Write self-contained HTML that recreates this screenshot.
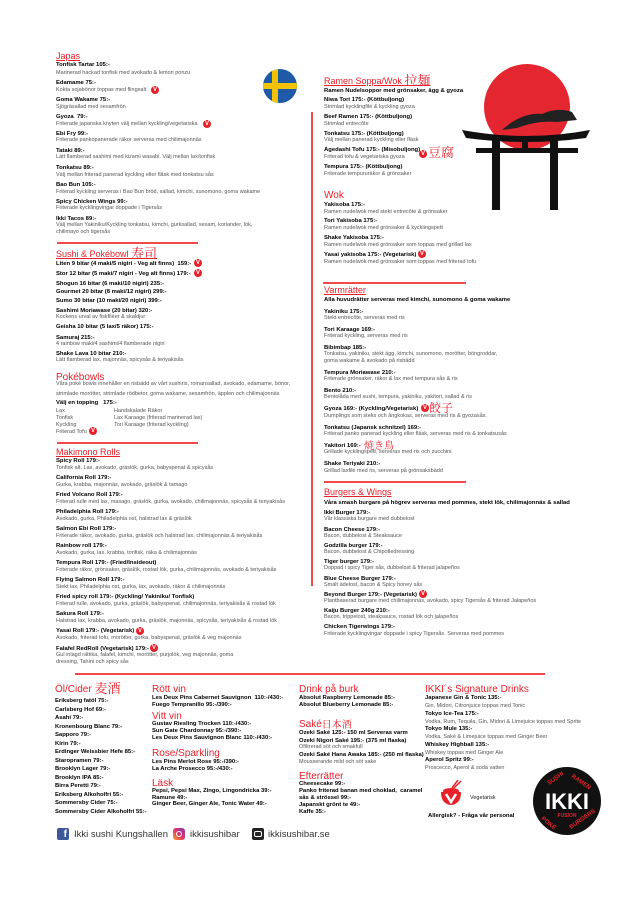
<!DOCTYPE html>
<html><head><meta charset="utf-8">
<style>
*{margin:0;padding:0;box-sizing:border-box}
body{width:640px;height:900px;background:#fff;position:relative;overflow:hidden;font-family:"Liberation Sans","Noto Sans CJK JP",sans-serif}
div{position:absolute;white-space:nowrap}
.b{font-weight:bold;font-size:5.9px;line-height:7px;color:#000}
.d{font-size:5.5px;line-height:7px;color:#555}
.h{font-size:9px;line-height:11px;color:#e8202a;text-decoration:underline}
.h2{font-size:10px;line-height:12px;color:#e8202a}
.k{color:#e8202a;font-family:"Noto Serif CJK SC",serif}
span.k{line-height:0;vertical-align:-1px}
.r{background:#f04a4a;height:2px}
.v{width:8px;height:8px;border-radius:50%;background:#e8202a;color:#fff;font-size:6px;line-height:8px;text-align:center;font-weight:bold}
.s{font-size:9.5px;line-height:12px;color:#333}
</style></head><body>

<!-- Japas -->
<div class="h" style="left:56px;top:51px">Japas</div>
<div class="b" style="left:56px;top:62px">Tonfisk Tartar 105:-</div>
<div class="d" style="left:56px;top:70px">Marinerad hackad tonfisk med avokado &amp; lemon ponzu</div>
<div class="b" style="left:56px;top:80px">Edamame 75:-</div>
<div class="d" style="left:56px;top:87px">Kokta sojabönor toppas med flingsalt</div>
<div class="v" style="left:151px;top:86px">V</div>
<div class="b" style="left:56px;top:97px">Goma Wakame 75:-</div>
<div class="d" style="left:56px;top:104px">Sjögräsallad med sesamfrön</div>
<div class="b" style="left:56px;top:114px">Gyoza&nbsp; 79:-</div>
<div class="d" style="left:56px;top:121px">Friterade japanska knyten välj mellan kyckling/vegetariska</div>
<div class="v" style="left:203px;top:120px">V</div>
<div class="b" style="left:56px;top:131px">Ebi Fry 99:-</div>
<div class="d" style="left:56px;top:137px">Friterade pankopanerade räkor serveras med chilimajonnäs</div>
<div class="b" style="left:56px;top:148px">Tataki 89:-</div>
<div class="d" style="left:56px;top:154px">Lätt flamberad sashimi med kizami wasabi. Välj mellan lax/tonfisk</div>
<div class="b" style="left:56px;top:165px">Tonkatsu 89:-</div>
<div class="d" style="left:56px;top:172px">Välj mellan friterad panerad kyckling eller fläsk med tonkatsu sås</div>
<div class="b" style="left:56px;top:182px">Bao Bun 105:-</div>
<div class="d" style="left:56px;top:189px">Friterad kyckling serveras i Bao Bun bröd, sallad, kimchi, sunomono, goma wakame</div>
<div class="b" style="left:56px;top:199px">Spicy Chicken Wings 99:-</div>
<div class="d" style="left:56px;top:205px">Friterade kycklingvingar doppade i Tigersås</div>
<div class="b" style="left:56px;top:216px">Ikki Tacos 89:-</div>
<div class="d" style="left:56px;top:222px">Välj mellan Yakiniku/Kyckling tonkatsu, kimchi, gurksallad, sesam, koriander, lök,</div>
<div class="d" style="left:56px;top:229px">chilimayo och tigersås</div>
<div class="r" style="left:57px;top:242px;width:141px"></div>

<!-- flag -->
<svg style="position:absolute;left:263px;top:69px" width="34" height="34"><defs><clipPath id="c"><circle cx="17" cy="17" r="17"/></clipPath></defs><g clip-path="url(#c)"><rect width="34" height="34" fill="#1f5aa6"/><rect x="9" width="6" height="34" fill="#f4c200"/><rect y="14" width="34" height="6" fill="#f4c200"/></g></svg>
<div style="left:311px;top:112px;width:2px;height:474px;background:#f04a4a"></div>

<!-- Sushi -->
<div class="h" style="left:56px;top:249px">Sushi &amp; Pokébowl <span class="k" style="font-size:13px;text-decoration:none">寿司</span></div>
<div class="b" style="left:56px;top:261px">Liten 9 bitar (4 maki/5 nigiri - Veg alt finns)&nbsp; 159:-</div>
<div class="v" style="left:194px;top:259px">V</div>
<div class="b" style="left:56px;top:271px">Stor 12 bitar (5 maki/7 nigiri - Veg alt finns) 179:-</div>
<div class="v" style="left:194px;top:269px">V</div>
<div class="b" style="left:56px;top:281px">Shogun 16 bitar (6 maki/10 nigiri) 235:-</div>
<div class="b" style="left:56px;top:289px">Gourmet 20 bitar (8 maki/12 nigiri) 299:-</div>
<div class="b" style="left:56px;top:298px">Sumo 30 bitar (10 maki/20 nigiri) 399:-</div>
<div class="b" style="left:56px;top:308px">Sashimi Moriawase (20 bitar) 320:-</div>
<div class="d" style="left:56px;top:314px">Kockens urval av fiskfiléer &amp; skaldjur</div>
<div class="b" style="left:56px;top:324px">Geisha 10 bitar (5 lax/5 räkor) 175:-</div>
<div class="b" style="left:56px;top:335px">Samuraj 215:-</div>
<div class="d" style="left:56px;top:341px">4 rainbow maki/4 sashimi/4 flamberade nigiri</div>
<div class="b" style="left:56px;top:351px">Shake Lava 10 bitar 210:-</div>
<div class="d" style="left:56px;top:357px">Lätt flamberad lax, majonnäs, spicysås &amp; teriyakisås</div>
<div class="h2" style="left:56px;top:372px">Pokébowls</div>
<div class="d" style="left:56px;top:381px">Våra poké bowls innehåller en risbädd av vårt sushiris, romansallad, avokado, edamame, bönor,</div>
<div class="d" style="left:56px;top:391px">strimlade morötter, strimlade rödbetor, goma wakame, sesamfrön, äpplen och chilimajonnäs</div>
<div class="b" style="left:56px;top:400px">Välj en topping&nbsp;&nbsp; 175:-</div>
<div class="d" style="left:56px;top:408px">Lax</div><div class="d" style="left:114px;top:408px">Handskalade Räkor</div>
<div class="d" style="left:56px;top:415px">Tonfisk</div><div class="d" style="left:114px;top:415px">Lax Karaage (friterad marinerad lax)</div>
<div class="d" style="left:56px;top:422px">Kyckling</div><div class="d" style="left:114px;top:422px">Tori Karaage (friterad kyckling)</div>
<div class="d" style="left:56px;top:429px">Friterad Tofu</div>
<div class="v" style="left:89px;top:427px">V</div>
<div class="r" style="left:57px;top:442px;width:141px"></div>

<!-- Makimono -->
<div class="h" style="left:56px;top:447px">Makimono Rolls</div>
<div class="b" style="left:56px;top:458px">Spicy Roll 179:-</div>
<div class="d" style="left:56px;top:465px">Tonfisk alt. Lax, avokado, gräslök, gurka, babyspenat &amp; spicysås</div>
<div class="b" style="left:56px;top:475px">California Roll 179:-</div>
<div class="d" style="left:56px;top:482px">Gurka, krabba, majonnäs, avokado, gräslök &amp; tamago</div>
<div class="b" style="left:56px;top:492px">Fried Volcano Roll 179:-</div>
<div class="d" style="left:56px;top:499px">Friterad rulle med lax, masago, gräslök, gurka, avokado, chilimajonnäs, spicysås &amp; teriyakisås</div>
<div class="b" style="left:56px;top:509px">Philadelphia Roll 179:-</div>
<div class="d" style="left:56px;top:516px">Avokado, gurka, Philadelphia ost, halstrad lax &amp; gräslök</div>
<div class="b" style="left:56px;top:526px">Salmon Ebi Roll 179:-</div>
<div class="d" style="left:56px;top:533px">Friterade räkor, avokado, gurka, gräslök och halstrad lax, chilimajonnäs &amp; teriyakisås</div>
<div class="b" style="left:56px;top:543px">Rainbow roll 179:-</div>
<div class="d" style="left:56px;top:550px">Avokado, gurka, lax, krabba, tonfisk, räka &amp; chilimajonnäs</div>
<div class="b" style="left:56px;top:560px">Tempura Roll 179:- (Fried/Insideout)</div>
<div class="d" style="left:56px;top:567px">Friterade räkor, grönsaker, gräslök, rostad lök, gurka, chilimajonnäs, avokado &amp; teriyakisås</div>
<div class="b" style="left:56px;top:577px">Flying Salmon Roll 179:-</div>
<div class="d" style="left:56px;top:584px">Stekt lax, Philadelphia ost, gurka, lax, avokado, räkor &amp; chilimajonnäs</div>
<div class="b" style="left:56px;top:594px">Fried spicy roll 179:- (Kyckling/ Yakiniku/ Tonfisk)</div>
<div class="d" style="left:56px;top:601px">Friterad rulle, avokado, gurka, gräslök, babyspenat, chilimajonnäs, teriyakisås &amp; rostad lök</div>
<div class="b" style="left:56px;top:611px">Sakura Roll 179:-</div>
<div class="d" style="left:56px;top:618px">Halstrad lax, krabba, avokado, gurka, gräslök, majonnäs, spicysås, teriyakisås &amp; rostad lök</div>
<div class="b" style="left:56px;top:628px">Yasai Roll 179:- (Vegetarisk)</div>
<div class="v" style="left:136px;top:627px">V</div>
<div class="d" style="left:56px;top:635px">Avokado, friterad tofu, morötter, gurka, babyspenat, gräslök &amp; veg majonnäs</div>
<div class="b" style="left:56px;top:646px">Falafel RedRoll (Vegetarisk) 179:-</div>
<div class="v" style="left:150px;top:644px">V</div>
<div class="d" style="left:56px;top:652px">Gul inlagd rättika, falafel, kimchi, morötter, purjolök, veg majonnäs, goma</div>
<div class="d" style="left:56px;top:659px">dressing, Tahini och spicy sås</div>
<div class="r" style="left:75px;top:673px;width:470px"></div>

<!-- torii -->
<svg style="position:absolute;left:462px;top:62px" width="130" height="156">
<circle cx="65" cy="45" r="43" fill="#e3262f"/>
<path d="M0 68 Q65 80 128 68 L124 76 Q65 84 4 76Z" fill="#111"/>
<rect x="14" y="86" width="102" height="5" fill="#111"/>
<rect x="30" y="76" width="8" height="72" fill="#111"/>
<rect x="88" y="76" width="8" height="72" fill="#111"/>
<rect x="60" y="76" width="6" height="12" fill="#111"/>
<path d="M40 68 Q60 50 80 52 Q95 45 110 50 L115 58 L95 60 Q75 58 55 66Z" fill="#222"/>
</svg>

<!-- Ramen -->
<div class="h" style="left:324px;top:76px">Ramen Soppa/Wok <span class="k" style="font-size:13px;text-decoration:none">拉麺</span></div>
<div class="b" style="left:324px;top:88px">Ramen Nudelsoppor med grönsaker, ägg &amp; gyoza</div>
<div class="b" style="left:324px;top:97px">Niwa Tori 175:- (Köttbuljong)</div>
<div class="d" style="left:324px;top:104px">Strimlad kycklingfilé &amp; kyckling gyoza</div>
<div class="b" style="left:324px;top:114px">Beef Ramen 175:- (Köttbuljong)</div>
<div class="d" style="left:324px;top:121px">Strimlad entrecôte</div>
<div class="b" style="left:324px;top:131px">Tonkatsu 175:- (Köttbuljong)</div>
<div class="d" style="left:324px;top:137px">Välj mellan panerad kyckling eller fläsk</div>
<div class="b" style="left:324px;top:147px">Agedashi Tofu 175:- (Misobuljong)</div>
<div class="v" style="left:419px;top:150px">V</div>
<div class="k" style="left:428px;top:144px;font-size:13px;line-height:15px">豆腐</div>
<div class="d" style="left:324px;top:154px">Friterad tofu &amp; vegetariska gyoza</div>
<div class="b" style="left:324px;top:164px">Tempura 175:- (Köttbuljong)</div>
<div class="d" style="left:324px;top:171px">Friterade tempururäkor &amp; grönsaker</div>
<div class="h2" style="left:324px;top:190px">Wok</div>
<div class="b" style="left:324px;top:202px">Yakisoba 175:-</div>
<div class="d" style="left:324px;top:209px">Ramen nudelwok med stekt entrecôte &amp; grönsaker</div>
<div class="b" style="left:324px;top:218px">Tori Yakisoba 175:-</div>
<div class="d" style="left:324px;top:225px">Ramen nudelwok med grönsaker &amp; kycklingspett</div>
<div class="b" style="left:324px;top:235px">Shake Yakisoba 175:-</div>
<div class="d" style="left:324px;top:242px">Ramen nudelwok med grönsaker som toppas med grillad lax</div>
<div class="b" style="left:324px;top:252px">Yasai yakisoba 175:- (Vegetarisk)</div>
<div class="v" style="left:418px;top:250px">V</div>
<div class="d" style="left:324px;top:259px">Ramen nudelwok med grönsaker som toppas med friterad tofu</div>
<div class="r" style="left:323px;top:282px;width:143px"></div>

<!-- Varm -->
<div class="h" style="left:324px;top:285px">Varmrätter</div>
<div class="b" style="left:324px;top:297px">Alla huvudrätter serveras med kimchi, sunomono &amp; goma wakame</div>
<div class="b" style="left:324px;top:309px">Yakiniku 175:-</div>
<div class="d" style="left:324px;top:315px">Stekt entrecôte, serveras med ris</div>
<div class="b" style="left:324px;top:327px">Tori Karaage 169:-</div>
<div class="d" style="left:324px;top:333px">Friterad kyckling, serveras med ris</div>
<div class="b" style="left:324px;top:345px">Bibimbap 185:-</div>
<div class="d" style="left:324px;top:351px">Tonkatsu, yakiniku, stekt ägg, kimchi, sunomono, morötter, böngroddar,</div>
<div class="d" style="left:324px;top:358px">goma wakame &amp; avokado på risbädd</div>
<div class="b" style="left:324px;top:370px">Tempura Moriawase 210:-</div>
<div class="d" style="left:324px;top:376px">Friterade grönsaker, räkor &amp; lax med tempura sås &amp; ris</div>
<div class="b" style="left:324px;top:388px">Bento 210:-</div>
<div class="d" style="left:324px;top:394px">Bentolåda med sushi, tempura, yakiniku, yakitori, sallad &amp; ris</div>
<div class="b" style="left:324px;top:406px">Gyoza 169:- (Kyckling/Vegetarisk)</div>
<div class="v" style="left:421px;top:404px">V</div>
<div class="k" style="left:429px;top:401px;font-size:12px;line-height:14px">餃子</div>
<div class="d" style="left:324px;top:413px">Dumplings som steks och ångkokas, serveras med ris &amp; gyozasås.</div>
<div class="b" style="left:324px;top:425px">Tonkatsu (Japansk schnitzel) 169:-</div>
<div class="d" style="left:324px;top:431px">Friterad panko panerad kyckling eller fläsk, serveras med ris &amp; tonkatsusås</div>
<div class="b" style="left:324px;top:443px">Yakitori 169:-</div>
<div class="k" style="left:364px;top:439px;font-size:10px;line-height:12px">焼き鳥</div>
<div class="d" style="left:324px;top:449px">Grillade kycklingspett, serveras med ris och zucchini</div>
<div class="b" style="left:324px;top:461px">Shake Teriyaki 210:-</div>
<div class="d" style="left:324px;top:468px">Grillad laxfilé med ris, serveras på grönsaksbädd</div>
<div class="r" style="left:324px;top:481px;width:142px"></div>

<!-- Burgers -->
<div class="h" style="left:324px;top:487px">Burgers &amp; Wings</div>
<div class="b" style="left:324px;top:500px">Våra smash burgare på högrev serveras med pommes, stekt lök, chilimajonnäs &amp; sallad</div>
<div class="b" style="left:324px;top:510px">Ikki Burger 179:-</div>
<div class="d" style="left:324px;top:516px">Vår klassiska burgare med dubbelost</div>
<div class="b" style="left:324px;top:527px">Bacon Cheese 179:-</div>
<div class="d" style="left:324px;top:533px">Bacon, dubbelost &amp; Steaksauce</div>
<div class="b" style="left:324px;top:543px">Godzilla burger 179:-</div>
<div class="d" style="left:324px;top:549px">Bacon, dubbelost &amp; Chipotledressing</div>
<div class="b" style="left:324px;top:559px">Tiger burger 179:-</div>
<div class="d" style="left:324px;top:565px">Doppad i spicy Tiger sås, dubbelost &amp; friterad jalapeños</div>
<div class="b" style="left:324px;top:576px">Blue Cheese Burger 179:-</div>
<div class="d" style="left:324px;top:582px">Smält ädelost, bacon &amp; Spicy honey sås</div>
<div class="b" style="left:324px;top:592px">Beyond Burger 179:- (Vegetarisk)</div>
<div class="v" style="left:419px;top:590px">V</div>
<div class="d" style="left:324px;top:598px">Plantbaserad burgare med chilimajonnäs, avokado, spicy Tigersås &amp; friterad Jalapeños</div>
<div class="b" style="left:324px;top:608px">Kaiju Burger 240g 210:-</div>
<div class="d" style="left:324px;top:614px">Bacon, trippelost, steaksauce, rostad lök och jalapeños</div>
<div class="b" style="left:324px;top:624px">Chicken Tigerwings 179:-</div>
<div class="d" style="left:324px;top:631px">Friterade kycklingvingar doppade i spicy Tigersås. Serveras med pommes</div>

<!-- Öl -->
<div class="h2" style="left:55px;top:684px">Öl/Cider <span class="k" style="font-size:13px">麦酒</span></div>
<div class="b" style="left:55px;top:697px;line-height:8.5px">Eriksberg fatöl 75:-<br>Carlsberg Hof 69:-<br>Asahi 79:-<br>Kronenbourg Blanc 79:-<br>Sapporo 79:-<br>Kirin 79:-<br>Erdinger Weissbier Hefe 85:-<br>Staropramen 79:-<br>Brooklyn Lager 79:-<br>Brooklyn IPA 85:-<br>Birra Peretti 79:-<br>Eriksberg Alkoholfri 55:-<br>Sommersby Cider 75:-<br>Sommersby Cider Alkoholfri 55:-</div>

<div class="h2" style="left:152px;top:684px">Rött vin</div>
<div class="b" style="left:152px;top:695px">Les Deux Pins Cabernet Sauvignon&nbsp; 110:-/430:-<br>Fuego Tempranillo 95:-/390:-</div>
<div class="h2" style="left:152px;top:711px">Vitt vin</div>
<div class="b" style="left:152px;top:721px">Gustav Riesling Trocken 110:-/430:-<br>Sun Gate Chardonnay 95:-/390:-<br>Les Deux Pins Sauvignon Blanc 110:-/430:-</div>
<div class="h2" style="left:152px;top:748px">Rose/Sparkling</div>
<div class="b" style="left:152px;top:759px">Les Pins Merlot Rose 95:-/390:-<br>La Arche Prosecco 95:-/430:-</div>
<div class="h2" style="left:152px;top:778px">Läsk</div>
<div class="b" style="left:152px;top:788px;line-height:6.5px">Pepsi, Pepsi Max, Zingo, Lingondricka 39:-<br>Ramune 49:-<br>Ginger Beer, Ginger Ale, Tonic Water 49:-</div>

<div class="h2" style="left:299px;top:684px">Drink på burk</div>
<div class="b" style="left:299px;top:695px">Absolut Raspberry Lemonade 85:-<br>Absolut Blueberry Lemonade 85:-</div>
<div class="h2" style="left:299px;top:719px">Saké<span class="k">日本酒</span></div>
<div class="b" style="left:299px;top:730px">Ozeki Saké 125:- 150 ml Serveras varm</div>
<div class="b" style="left:299px;top:738px">Ozeki Nigori Saké 195:- (375 ml flaska)</div>
<div class="d" style="left:299px;top:744px">Ofiltrerad söt och smakfull</div>
<div class="b" style="left:299px;top:752px">Ozeki Saké Hana Awaka 185:- (250 ml flaska)</div>
<div class="d" style="left:299px;top:759px">Mousserande mild och söt sake</div>
<div class="h2" style="left:299px;top:771px">Efterrätter</div>
<div class="b" style="left:299px;top:781px">Cheesecake 99:-<br>Panko friterad banan med choklad,&nbsp; caramel<br>sås &amp; strössel 99:-<br>Japanskt grönt te 49:-<br>Kaffe 35:-</div>

<div class="h2" style="left:425px;top:684px">IKKI´s Signature Drinks</div>
<div class="b" style="left:425px;top:695px">Japanese Gin &amp; Tonic 135:-</div>
<div class="d" style="left:425px;top:703px">Gin, Midori, Citronjuice toppas med Tonic</div>
<div class="b" style="left:425px;top:711px">Tokyo Ice-Tea 175:-</div>
<div class="d" style="left:425px;top:719px">Vodka, Rum, Tequila, Gin, Midori &amp; Limejuice toppas med Sprite</div>
<div class="b" style="left:425px;top:726px">Tokyo Mule 135:-</div>
<div class="d" style="left:425px;top:734px">Vodka, Saké &amp; Limejuice toppas med Ginger Beer</div>
<div class="b" style="left:425px;top:742px">Whiskey Highball 135:-</div>
<div class="d" style="left:425px;top:750px">Whiskey toppas med Ginger Ale</div>
<div class="b" style="left:425px;top:757px">Aperol Spritz 99:-</div>
<div class="d" style="left:425px;top:765px">Proscecco, Aperol &amp; soda vatten</div>

<svg style="position:absolute;left:440px;top:780px" width="22" height="26"><line x1="12" y1="8" x2="18" y2="0" stroke="#e8202a" stroke-width="1.5"/><line x1="14" y1="8" x2="21" y2="1" stroke="#e8202a" stroke-width="1.5"/><path d="M1 12 L21 12 Q21 24 11 25 Q1 24 1 12Z" fill="#e8202a"/><ellipse cx="11" cy="11" rx="8" ry="3" fill="#e8202a"/><path d="M6 14 L11 22 L16 14" stroke="#fff" stroke-width="2.5" fill="none"/></svg>
<div class="d" style="left:470px;top:795px;color:#222">Vegetarisk</div>
<div class="b" style="left:428px;top:813px">Allergisk? - Fråga vår personal</div>

<svg style="position:absolute;left:533px;top:767px" width="68" height="68"><circle cx="34" cy="34" r="34" fill="#111"/>
<text x="34" y="42" text-anchor="middle" font-family="Liberation Sans" font-weight="bold" font-size="22" fill="#fff">IKKI</text>
<text x="34" y="50" text-anchor="middle" font-family="Liberation Sans" font-weight="bold" font-size="5" fill="#e8202a">FUSION</text>
<text x="16" y="18" font-family="Liberation Sans" font-weight="bold" font-size="6" fill="#e8202a" transform="rotate(-35 16 18)">SUSHI</text>
<text x="38" y="10" font-family="Liberation Sans" font-weight="bold" font-size="6" fill="#e8202a" transform="rotate(35 38 10)">RAMEN</text>
<text x="8" y="52" font-family="Liberation Sans" font-weight="bold" font-size="6" fill="#e8202a" transform="rotate(40 8 52)">POKÉ</text>
<text x="38" y="62" font-family="Liberation Sans" font-weight="bold" font-size="6" fill="#e8202a" transform="rotate(-35 38 62)">BURGERS</text></svg>

<!-- social -->
<div style="left:57px;top:828px;width:12px;height:12px;background:#3b5998;border-radius:2px;color:#fff;font-weight:bold;font-size:10px;line-height:14px;text-align:right;padding-right:2px">f</div>
<div class="s" style="left:74px;top:829px">Ikki sushi Kungshallen</div>
<div style="left:173px;top:828px;width:12px;height:12px;border-radius:3px;background:linear-gradient(45deg,#f9a825,#e1306c,#833ab4)"></div>
<div style="left:176px;top:831px;width:6px;height:6px;border-radius:50%;border:1px solid #fff"></div>
<div class="s" style="left:190px;top:829px">ikkisushibar</div>
<div style="left:252px;top:828px;width:12px;height:12px;border-radius:2px;background:#222"></div>
<div style="left:254px;top:831px;width:8px;height:6px;border-radius:2px;border:1px solid #fff"></div>
<div class="s" style="left:268px;top:829px">ikkisushibar.se</div>
</body></html>
